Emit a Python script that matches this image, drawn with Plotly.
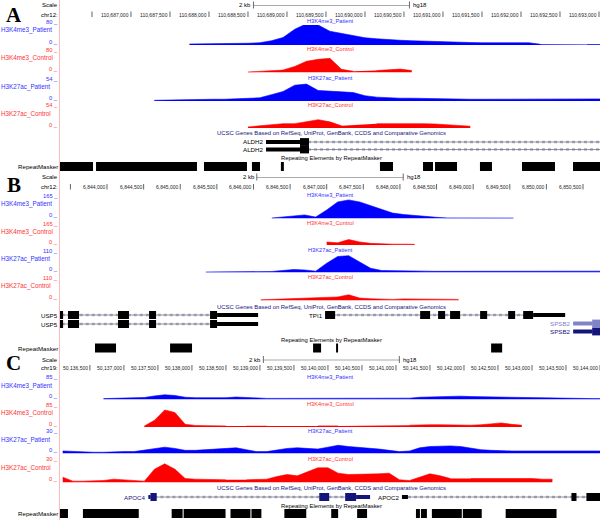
import plotly.graph_objects as go

# ---------------- data ----------------
A_RANGE = [110686090, 110693013]
B_RANGE = [6843358, 6850732]
C_RANGE = [50136060, 50144000]
CHROMS = ["chr12:", "chr12:", "chr19:"]

A_TICKS = [110686500, 110687000, 110687500, 110688000, 110688500, 110689000, 110689500,
           110690000, 110690500, 110691000, 110691500, 110692000, 110692500, 110693000]
A_TICK_LABELS = ["", "110,687,000", "110,687,500", "110,688,000", "110,688,500", "110,689,000",
                 "110,689,500", "110,690,000", "110,690,500", "110,691,000", "110,691,500",
                 "110,692,000", "110,692,500", "110,693,000"]
B_TICKS = [6843500, 6844000, 6844500, 6845000, 6845500, 6846000, 6846500, 6847000, 6847500,
           6848000, 6848500, 6849000, 6849500, 6850000, 6850500]
B_TICK_LABELS = ["", "6,844,000", "6,844,500", "6,845,000", "6,845,500", "6,846,000", "6,846,500",
                 "6,847,000", "6,847,500", "6,848,000", "6,848,500", "6,849,000", "6,849,500",
                 "6,850,000", "6,850,500"]
C_TICKS = [50136500, 50137000, 50137500, 50138000, 50138500, 50139000, 50139500, 50140000,
           50140500, 50141000, 50141500, 50142000, 50142500, 50143000, 50143500, 50144000]
C_TICK_LABELS = ["50,136,500", "50,137,000", "50,137,500", "50,138,000", "50,138,500", "50,139,000",
                 "50,139,500", "50,140,000", "50,140,500", "50,141,000", "50,141,500", "50,142,000",
                 "50,142,500", "50,143,000", "50,143,500", "50,144,000"]
A_RULER = [110688570, 110690570]
B_RULER = [6846045, 6848045]
C_RULER = [50139050, 50141050]

TRACK_NAMES = ["H3K4me3_Patient", "H3K4me3_Control", "H3K27ac_Patient", "H3K27ac_Control"]
A_MAX = [80, 80, 54, 54]
B_MAX = [165, 165, 110, 110]
C_MAX = [85, 85, 30, 30]

BIN = 150
A_START = 110686100
B_START = 6843400
C_START = 50136100

A_K4_PAT = [None, None, None, None, None, None, None, None, None, None, None,
            4, 4, 5, 5, 6, 7, 9, 17, 30, 63, 85, 80, 55, 46, 36, 29, 25, 21, 19, 17, 15, 13, 12,
            11, 10, 9, 9, 10, 12, 9, 3, None, None, None, 2, 2, 2]
A_K4_CTL = [None, None, None, None, None, None, None, None, None, None, None, None, None, None,
            None, None, 2, 4, 8, 10, 25, 46, 54, 58, 13, 5, None, 8, 10, 14, 8,
            None, None, None, None, None, None, None, None, None, None, None, None, None, None,
            None, None, None]
A_K27_PAT = [None, None, None, None, None, None, None, None,
             2, 3, 3, 4, 4, 5, 5, 6, 7, 9, 18, 27, 45, 48, 30, 27, 26, 24, 15, 11, 9, 8, 8, 7, 7,
             6, 5, 5, 5, 5, 5, 5, 5, 5, 5, 5, 6, 7, 6, 6]
A_K27_CTL = [None, None, None, None, None, None, None, None, None, None, None, None, None, None,
             None, None, 3, 6, 9, 12, 12, 18, 23, 17, 6, None, None, 12, 12, 14, 12, 12, 11, 9,
             8, 5, None, None, None, None, None, None, None, None, None, None, None, None]

B_K4_PAT = [None, None, None, None, None, None, None, None, None, None, None, None, None, None,
            None, None, None, None, None,
            4, 13, 25, 30, 12, 72, 140, 157, 140, 110, 76, 46, 34, 25, 17, 10, 5, 4, 4, 4, 4, 4,
            4, None, None, None, None, None, None, None, None]
B_K4_CTL = [None, None, None, None, None, None, None, None, None, None, None, None, None, None,
            None, None, None, None, None, None, None, None, None, None,
            28, 20, 50, 28, 15, 10, 8, 8, 6, None, None, None, None, None, None, None, None,
            None, None, None, None, None, None, None, None, None]
B_K27_PAT = [None, None, None, None, None, None, None, None, None, None, None, None, None,
             3, 3, 3, 3, 4, 5, 6, 12, 18, 15, 8, 55, 95, 100, 60, 25, 12, 10, 9, 8, 8, 7, 7, 8,
             7, 6, 6, 6, 6, 7, 6, 6, 7, 6, 6, 8, 8]
B_K27_CTL = [None, None, None, None, None, None, None, None, None, None, None, None, None, None,
             None, None, None, None,
             4, 6, 8, 10, 10, 12, 16, 20, 32, 14, 10, 8, 6, 9, 9, 8, 8, 8, 6,
             None, None, None, None, None, None, None, None, None, None, None, None, None]

C_K4_PAT = [None, None, None, None,
            4, 5, 5, 5, 9, 16, 21, 18, 10, 8, 7, 7, 8, 11, 8, 5, 5, 5, 5, 5, 5, 5, 6, 5, 5, 5, 5,
            5, 5, 5, 6, 10, 12, 13, 14, 15, 13, 12, 12, 11, 9, 9, 8, 6, 5, 5, 5, 4, 4, 4]
C_K4_CTL = [None, None, None, None, None, None, None, None,
            4, 30, 76, 65, 12, 7, 6, 6, 5, None, 4, 4, 4, None, None, None, None, 5, 6, 5,
            None, None, None, None, None, None, 8, 10, 10, 10, 9, 7, 8, 10, 14, 18, 12, 8,
            None, None, None, None, None, None, None, None]
C_K27_PAT = [4, 3, 2, 2, 2, 3, 3, 3, 5, 8, 10, 8, 5, 5, 6, 7, 7, 9, 6, 3, 3, 6, 8, 9, 8, 7, 10,
             13, 11, 10, 9, 7, 5, 3, 4, 9, 11, 12, 12, 11, 8, 6, 5, 4, 4, 4, 4, 4, 4, 4, 4, 4, 4, 4]
C_K27_CTL = [8, 2, 2, 2, 3, 5, 4, 2, 2, 20, 28, 20, 6, 5, 5, 4, 4, None, 4, 4, 5, 9, 12, 10, 16,
             22, 22, 14, 12, 12, 12, 13, 14, 4, 3, 8, 13, 10, 6, None, 6, 6, 7, 6, 7, 6, 6, 5, 5,
             None, None, None, None, None]

A_RMSK = [[110686050, 110686513], [110686552, 110687846], [110687936, 110688487],
          [110688551, 110688654], [110688922, 110688960], [110690192, 110690359],
          [110690744, 110690872], [110690898, 110691180], [110691474, 110691628],
          [110692013, 110692436], [110692667, 110693050]]
B_RMSK = [[6843836, 6844123], [6844861, 6845161], [6846814, 6846923], [6847128, 6847155],
          [6849245, 6849396]]
C_RMSK = [[50136040, 50136177], [50136397, 50137218], [50137702, 50137863], [50137878, 50138494],
          [50138567, 50138860], [50138875, 50139021], [50139359, 50139681], [50140048, 50140150],
          [50140429, 50140575], [50141294, 50141352], [50141367, 50141455], [50141528, 50141968],
          [50141983, 50142261], [50142613, 50143361]]

ALDH2_EXONS = [[110689167, 110689282]]
ALDH2_UTRS = [[110688731, 110689167]]
ALDH2_SPAN = [110688731, 110700000]
USP5_EXONS = [[6843300, 6843400], [6843467, 6843618], [6844150, 6844300], [6844574, 6844670],
              [6845407, 6845503]]
USP5_UTRS = [[6845503, 6846063]]
USP5_SPAN = [6843300, 6846063]
TPI1_EXONS = [[6846978, 6847115], [6848276, 6848412], [6848521, 6848617], [6848685, 6848822],
              [6849095, 6849191], [6849478, 6849573], [6849683, 6849819]]
TPI1_UTRS = [[6849819, 6850256]]
TPI1_SPAN = [6846978, 6850256]
SPSB2_EXONS = [[6850625, 6850800]]
SPSB2_UTRS = [[6850366, 6850625]]
SPSB2_SPAN = [6850366, 6850800]
APOC4_EXONS = [[50137390, 50137482], [50139872, 50140018], [50140253, 50140414]]
APOC4_UTRS = [[50137360, 50137390], [50140414, 50140619]]
APOC4_SPAN = [50137360, 50140619]
APOC2_EXONS = [[50143580, 50143654], [50143800, 50144100]]
APOC2_UTRS = [[50141088, 50141176]]
APOC2_SPAN = [50141088, 50144100]

# ---------------- styling / layout constants ----------------
W, H = 600, 520
FONT = "Liberation Sans, Arial, sans-serif"
BLUE = "rgb(0,0,255)"
RED = "rgb(255,0,0)"
TXT_BLUE = "rgb(50,50,255)"
TXT_RED = "rgb(255,50,50)"
NAVY = "rgb(20,20,125)"
LNAVY = "rgb(130,130,200)"
TRACK_COLORS = [BLUE, RED, BLUE, RED]
TEXT_COLORS = [TXT_BLUE, TXT_RED, TXT_BLUE, TXT_RED]


def py(p):
    return 1 - p / H


def pxp(p):
    return p / W


panels = [
    dict(letter="A", letter_y=14.5, rng=A_RANGE, start=A_START, maxes=A_MAX,
         tracks=[A_K4_PAT, A_K4_CTL, A_K27_PAT, A_K27_CTL],
         geom=[(25, 45), (53, 72.5), (82, 101), (108.5, 128)],
         scale_y=5, chr_y=14.5, ticks=A_TICKS, labels=A_TICK_LABELS, ruler=A_RULER,
         genes_y=133, rm_label_y=158, rm_y=166.5, rmsk=A_RMSK),
    dict(letter="B", letter_y=184.5, rng=B_RANGE, start=B_START, maxes=B_MAX,
         tracks=[B_K4_PAT, B_K4_CTL, B_K27_PAT, B_K27_CTL],
         geom=[(199, 218.5), (227, 245), (254, 272.5), (281, 300.5)],
         scale_y=177, chr_y=187, ticks=B_TICKS, labels=B_TICK_LABELS, ruler=B_RULER,
         genes_y=307, rm_label_y=340, rm_y=348, rmsk=B_RMSK),
    dict(letter="C", letter_y=362.5, rng=C_RANGE, start=C_START, maxes=C_MAX,
         tracks=[C_K4_PAT, C_K4_CTL, C_K27_PAT, C_K27_CTL],
         geom=[(380.5, 399.5), (408, 427), (434.5, 453.5), (462.5, 482.5)],
         scale_y=359.5, chr_y=368, ticks=C_TICKS, labels=C_TICK_LABELS, ruler=C_RULER,
         genes_y=488, rm_label_y=506, rm_y=513.5, rmsk=C_RMSK),
]

fig = go.Figure()
layout = dict(width=W, height=H, margin=dict(l=0, r=0, t=0, b=0),
              paper_bgcolor="white", plot_bgcolor="rgba(0,0,0,0)", showlegend=False,
              font=dict(family=FONT, size=6, color="black"))
annotations = []
shapes = []


def ann(text, x, y, xanchor="center", yanchor="middle", size=6, color="black", xref="paper",
        family=FONT, xshift=0):
    annotations.append(dict(text=text, x=x, y=y, xref=xref, yref="paper", xanchor=xanchor,
                            yanchor=yanchor, showarrow=False, borderpad=0,
                            font=dict(size=size, color=color, family=family), xshift=xshift))


PIX_Y = "y13"


def boxes(xa, intervals, yc, half, color, rng):
    xs, ys = [], []
    for s, e in intervals:
        xs += [s, e, e, s, s, None]
        ys += [yc - half, yc - half, yc + half, yc + half, yc - half, None]
    fig.add_trace(go.Scatter(x=xs, y=ys, xaxis=xa, yaxis=PIX_Y, mode="lines", fill="toself",
                             fillcolor=color, line=dict(width=0, color=color),
                             hoverinfo="skip"))


def gene(xa, rng, row, color, exons, utrs, span, name, label_color):
    fig.add_trace(go.Scatter(x=[span[0], span[1]], y=[row, row], xaxis=xa, yaxis=PIX_Y,
                             mode="lines", line=dict(width=2.4, color="rgb(175,175,195)", dash="dot"),
                             hoverinfo="skip"))
    fig.add_trace(go.Scatter(x=[span[0], span[1]], y=[row, row], xaxis=xa, yaxis=PIX_Y,
                             mode="lines", line=dict(width=0.8, color="rgb(120,120,140)"),
                             hoverinfo="skip"))
    boxes(xa, utrs, row, 2.0, color, rng)
    boxes(xa, exons, row, 3.9, color, rng)
    lx = max(span[0], rng[0])
    ann(name, lx, py(row), xanchor="right", size=6.2, color=label_color, xref=xa, xshift=-1)


for pi, p in enumerate(panels):
    xa = "x" if pi == 0 else "x%d" % (pi + 1)
    xname = "xaxis" if pi == 0 else "xaxis%d" % (pi + 1)
    first_y = pi * 4 + 1
    layout[xname] = dict(domain=[pxp(60), 1], range=p["rng"], visible=False, fixedrange=True,
                         anchor="y" if first_y == 1 else "y%d" % first_y)
    # signal tracks
    for ti in range(4):
        yi = pi * 4 + ti + 1
        ya = "y" if yi == 1 else "y%d" % yi
        yname = "yaxis" if yi == 1 else "yaxis%d" % yi
        top, base = p["geom"][ti]
        layout[yname] = dict(domain=[py(base), py(top)], range=[0, p["maxes"][ti]],
                             visible=False, fixedrange=True, anchor=xa)
        vals = p["tracks"][ti]
        xs = [p["start"] + BIN * i for i in range(len(vals))]
        col = TRACK_COLORS[ti]
        fig.add_trace(go.Scatter(x=xs, y=vals, xaxis=xa, yaxis=ya, mode="lines",
                                 fill="tozeroy", fillcolor=col, connectgaps=False,
                                 line=dict(width=0.6, color=col), hoverinfo="skip"))
        tc = TEXT_COLORS[ti]
        ann(TRACK_NAMES[ti], -0.5 / W, py(top + 5), xanchor="left", size=6.3, color=tc)
        ann("%d _" % p["maxes"][ti], pxp(58.5), py(top - 3.2), xanchor="right", size=5.8, color=tc)
        ann("0 _", pxp(58.5), py(base - 3.2), xanchor="right", size=5.8, color=tc)
        ann(TRACK_NAMES[ti], pxp(330), py(top - 3.6), size=5.7, color=tc)

    # scale / position rows
    ann("<b>%s</b>" % p["letter"], pxp(13.5), py(p["letter_y"]), size=21, color="black",
        family="Liberation Serif, Times New Roman, serif")
    ann("Scale", pxp(58.5), py(p["scale_y"]), xanchor="right", size=6)
    ann(CHROMS[pi], pxp(58.5), py(p["chr_y"]), xanchor="right", size=6)
    tx, ty = [], []
    for t, lab in zip(p["ticks"], p["labels"]):
        tx += [t, t, None]
        ty += [p["chr_y"] - 3, p["chr_y"] + 2.5, None]
        if lab:
            ann(lab, t, py(p["chr_y"]), xanchor="right", size=5, color="rgb(30,30,30)",
                xref=xa, xshift=-1)
    fig.add_trace(go.Scatter(x=tx, y=ty, xaxis=xa, yaxis=PIX_Y, mode="lines",
                             line=dict(width=0.8, color="rgb(60,60,60)"), hoverinfo="skip"))
    r0, r1 = p["ruler"]
    sy = p["scale_y"]
    fig.add_trace(go.Scatter(x=[r0, r1], y=[sy + 0.5, sy + 0.5], xaxis=xa, yaxis=PIX_Y,
                             mode="lines", line=dict(width=0.8, color="rgb(150,150,150)"),
                             hoverinfo="skip"))
    fig.add_trace(go.Scatter(x=[r0, r0, None, r1, r1], y=[sy - 3.5, sy + 3.5, None, sy - 3.5, sy + 3.5],
                             xaxis=xa, yaxis=PIX_Y, mode="lines",
                             line=dict(width=0.8, color="rgb(70,70,70)"), hoverinfo="skip"))
    ann("2 kb", r0, py(sy), xanchor="right", size=6, xref=xa, xshift=-1)
    ann("hg18", r1, py(sy), xanchor="left", size=6, xref=xa, xshift=3)

    # gene track title and repeat masker
    ann("UCSC Genes Based on RefSeq, UniProt, GenBank, CCDS and Comparative Genomics",
        pxp(331), py(p["genes_y"]), size=5.9, color=NAVY)
    ann("Repeating Elements by RepeatMasker", pxp(331), py(p["rm_label_y"]), size=5.9)
    ann("RepeatMasker", pxp(58.5), py(p["rm_y"]), xanchor="right", size=6.2)
    boxes(xa, p["rmsk"], p["rm_y"], 4.6, "black", p["rng"])

    if pi == 0:
        for row in (142, 149.5):
            gene(xa, p["rng"], row, "black", ALDH2_EXONS, ALDH2_UTRS, ALDH2_SPAN, "ALDH2", "black")
    elif pi == 1:
        for row in (315, 324):
            gene(xa, p["rng"], row, "black", USP5_EXONS, USP5_UTRS, USP5_SPAN, "USP5", "black")
        gene(xa, p["rng"], 315, "black", TPI1_EXONS, TPI1_UTRS, TPI1_SPAN, "TPI1", "black")
        gene(xa, p["rng"], 323.5, LNAVY, SPSB2_EXONS, SPSB2_UTRS, SPSB2_SPAN, "SPSB2", LNAVY)
        gene(xa, p["rng"], 331.5, NAVY, SPSB2_EXONS, SPSB2_UTRS, SPSB2_SPAN, "SPSB2", NAVY)
    else:
        gene(xa, p["rng"], 497, NAVY, APOC4_EXONS, APOC4_UTRS, APOC4_SPAN, "APOC4", NAVY)
        gene(xa, p["rng"], 497, "black", APOC2_EXONS, APOC2_UTRS, APOC2_SPAN, "APOC2", "black")

layout["yaxis13"] = dict(domain=[0, 1], range=[H, 0], visible=False, fixedrange=True, anchor="x")
shapes.append(dict(type="line", xref="paper", yref="paper", x0=pxp(59.5), x1=pxp(59.5), y0=0, y1=1,
                   line=dict(color="rgb(255,185,185)", width=1)))
layout["annotations"] = annotations
layout["shapes"] = shapes
fig.update_layout(**layout)
fig.write_html("out.html", config={"staticPlot": True},
               post_script="document.body.style.margin='0';")
